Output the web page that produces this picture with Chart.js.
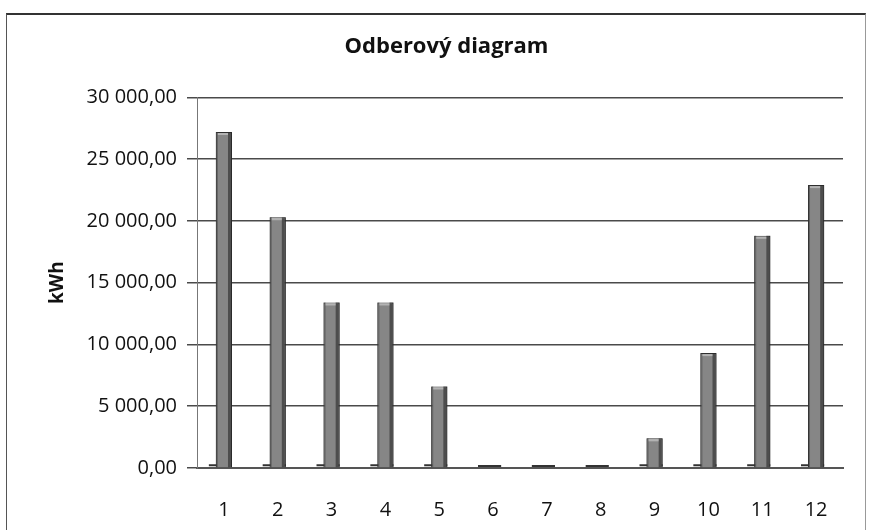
<!DOCTYPE html>
<html>
<head>
<meta charset="utf-8">
<script src="https://cdn.jsdelivr.net/npm/chart.js@4/dist/chart.umd.min.js"></script>
<style>
  html, body { margin: 0; padding: 0; background: #fff; }
  #wrap { position: relative; width: 869px; height: 530px; }
  #frame { position: absolute; left: 6px; top: 13px; width: 858px; height: 520px;
           border-top: 2px solid #333; border-left: 1px solid #555; border-right: 1px solid #999; }
  canvas { position: absolute; left: 0; top: 0; }
</style>
</head>
<body>
<div id="wrap">
  <div id="frame"></div>
  <canvas id="c" width="869" height="530"></canvas>
</div>
<script>
const chartTitle = 'Odberový diagram';
const yAxisTitle = 'kWh';
const categories = ['1','2','3','4','5','6','7','8','9','10','11','12'];
const consumption = [27200, 20300, 13400, 13400, 6600, 0, 0, 0, 2400, 9300, 18800, 22900];
const yTickValues = [0, 5000, 10000, 15000, 20000, 25000, 30000];
const yTickLabels = ['0,00', '5 000,00', '10 000,00', '15 000,00', '20 000,00', '25 000,00', '30 000,00'];

const FONT = '"Open Sans", Lato, sans-serif';

// shift the title block a little to the right, as in the reference
const titleShift = {
  id: 'titleShift',
  afterLayout(chart) {
    if (chart.titleBlock) {
      chart.titleBlock.left += 22;
      chart.titleBlock.right += 22;
    }
  }
};

// simple shading to suggest the 3D column look (floor dash, darker right side, light top)
const shade3d = {
  id: 'shade3d',
  beforeDatasetsDraw(chart) {
    const ctx = chart.ctx;
    const meta = chart.getDatasetMeta(0);
    ctx.save();
    ctx.strokeStyle = '#333';
    ctx.lineWidth = 2;
    meta.data.forEach(bar => {
      const p = bar.getProps(['x', 'base', 'width'], true);
      const left = p.x - p.width / 2, right = p.x + p.width / 2;
      ctx.beginPath();
      ctx.moveTo(left - 7, p.base - 2);
      ctx.lineTo(right, p.base - 2);
      ctx.stroke();
    });
    ctx.restore();
  },
  afterDatasetsDraw(chart) {
    const ctx = chart.ctx;
    const meta = chart.getDatasetMeta(0);
    ctx.save();
    meta.data.forEach(bar => {
      const p = bar.getProps(['x', 'y', 'base', 'width'], true);
      const left = p.x - p.width / 2, right = p.x + p.width / 2;
      const h = p.base - p.y;
      if (h > 3) {
        ctx.fillStyle = 'rgba(40,40,40,0.6)';
        ctx.fillRect(right - 4, p.y, 4, h);
        ctx.fillStyle = 'rgba(60,60,60,0.5)';
        ctx.fillRect(left, p.y, 2, h);
        ctx.fillStyle = 'rgba(210,210,210,0.6)';
        ctx.fillRect(left + 2, p.y + 1, p.width - 6, 2);
      }
    });
    ctx.restore();
  }
};

new Chart(document.getElementById('c'), {
  type: 'bar',
  data: {
    labels: categories,
    datasets: [{
      label: yAxisTitle,
      data: consumption,
      backgroundColor: '#868686',
      borderColor: '#2e2e2e',
      borderWidth: 1,
      barPercentage: 0.3,
      categoryPercentage: 1.0
    }]
  },
  plugins: [titleShift, shade3d],
  options: {
    responsive: false,
    animation: false,
    layout: { padding: { left: 6, top: 14, right: 26, bottom: 10 } },
    plugins: {
      legend: { display: false },
      tooltip: { enabled: false },
      title: {
        display: true,
        text: chartTitle,
        color: '#111',
        font: { family: FONT, size: 22, weight: 'bold' },
        padding: { top: 20, bottom: 37 }
      }
    },
    scales: {
      x: {
        grid: { display: false },
        border: { display: true, color: '#555', width: 2 },
        ticks: { color: '#111', font: { family: FONT, size: 20 }, padding: 22 },
        afterFit: s => { s.height = 52; }
      },
      y: {
        min: 0,
        max: 30000,
        afterBuildTicks: s => { s.ticks = yTickValues.map(v => ({ value: v })); },
        ticks: {
          color: '#111',
          font: { family: FONT, size: 20 },
          padding: 10,
          callback: (v) => yTickLabels[yTickValues.indexOf(v)]
        },
        grid: { color: '#4a4a4a', lineWidth: 1.5, tickLength: 10 },
        border: { display: true, color: '#777', width: 1 },
        title: {
          display: true,
          text: yAxisTitle,
          color: '#111',
          font: { family: FONT, size: 19, weight: 'bold' },
          padding: { top: 40, bottom: 0 }
        },
        afterFit: s => { s.width = 191; }
      }
    }
  }
});
</script>
</body>
</html>
